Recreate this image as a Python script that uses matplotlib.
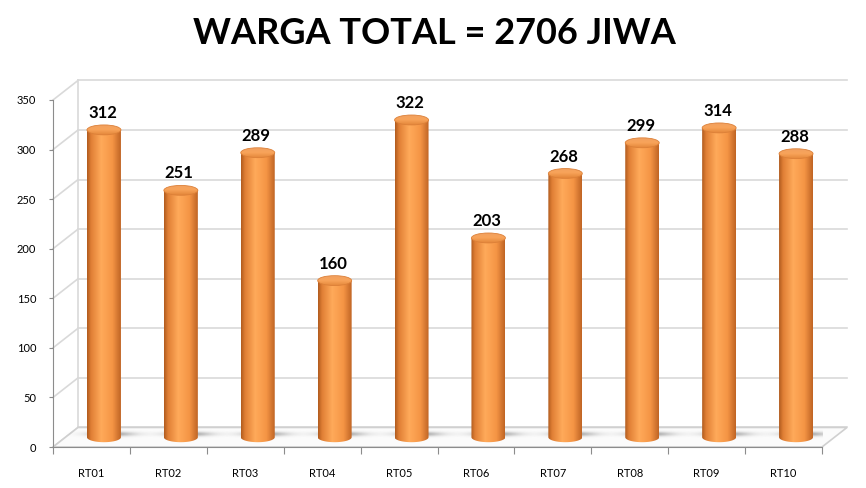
import numpy as np
import matplotlib.pyplot as plt
from matplotlib.colors import LinearSegmentedColormap
from matplotlib.patches import PathPatch, Ellipse, Polygon
from matplotlib.path import Path

# data
kategori = ['RT01', 'RT02', 'RT03', 'RT04', 'RT05', 'RT06', 'RT07', 'RT08', 'RT09', 'RT10']
warga = [312, 251, 289, 160, 322, 203, 268, 299, 314, 288]
judul = 'WARGA TOTAL = 2706 JIWA'
y_ticks = [0, 50, 100, 150, 200, 250, 300, 350]

plt.rcParams['font.family'] = ['Lato', 'DejaVu Sans']

fig = plt.figure(figsize=(8.66, 4.88), dpi=100)
ax = fig.add_axes([53 / 866, 41 / 488, 769 / 866, 347 / 488])
n = len(kategori)

# fake 3d depth (in data units)
dx = 0.325
dy = 19.7
grid_col = '#d9d9d9'

# back wall + side wall grid
for v in y_ticks:
    ax.plot([dx, n + dx], [v + dy, v + dy], color=grid_col, lw=1.2, clip_on=False, zorder=1)
    ax.plot([0, dx], [v, v + dy], color=grid_col, lw=1.2, clip_on=False, zorder=1)
ax.plot([dx, dx], [dy, y_ticks[-1] + dy], color=grid_col, lw=1.2, clip_on=False, zorder=1)

# floor
floor = Polygon([[0, 0], [n, 0], [n + dx, dy], [dx, dy]], closed=True,
                facecolor='#fbfbfb', edgecolor='#d0d0d0', lw=1.2, clip_on=False, zorder=1)
ax.add_patch(floor)

body_cmap = LinearSegmentedColormap.from_list('body', [
    (0.0, '#b05a1e'), (0.12, '#e07f35'), (0.42, '#ffaa5a'),
    (0.75, '#f59545'), (1.0, '#bf6424')])
top_cmap = LinearSegmentedColormap.from_list('top', [
    (0.0, '#e38538'), (0.55, '#f8a45a'), (1.0, '#f2a060')])

w = 0.221      # half width of cylinder
eh = 10.0      # ellipse height
grad = np.linspace(0, 1, 256).reshape(1, -1)

# shadow image
sx = np.linspace(-1, 1, 200)
sy = np.linspace(-1, 1, 40)
SX, SY = np.meshgrid(sx, sy)
shadow = np.zeros((40, 200, 4))
shadow[..., :3] = 0.35
shadow[..., 3] = 0.55 * np.exp(-(SX / 0.45) ** 2 - (SY / 0.45) ** 2)

t = np.linspace(np.pi, 2 * np.pi, 60)

for i, v in enumerate(warga):
    cx = i + 0.5 + dx / 2
    base = dy / 2
    top = v + dy / 2 - 2

    # shadow on floor
    ax.imshow(shadow, extent=[cx - 0.55, cx + 0.75, base - 2, base + 8],
              aspect='auto', zorder=2, interpolation='bilinear')

    # body: bottom half ellipse + rectangle
    bx = cx + w * np.cos(t)
    by = base + eh / 2 * np.sin(t)
    verts = np.column_stack([np.r_[bx, cx + w, cx - w, bx[0]],
                             np.r_[by, top, top, by[0]]])
    body_path = Path(verts, closed=True)
    patch = PathPatch(body_path, facecolor='none', edgecolor='none', transform=ax.transData)
    ax.add_patch(patch)
    im = ax.imshow(grad, cmap=body_cmap, extent=[cx - w, cx + w, base - eh, top],
                   aspect='auto', zorder=3, interpolation='bilinear')
    im.set_clip_path(patch)

    # top cap
    cap = Ellipse((cx, top), 2 * w, eh, facecolor='none', edgecolor='none', transform=ax.transData)
    ax.add_patch(cap)
    im2 = ax.imshow(grad.T[::-1], cmap=top_cmap, extent=[cx - w, cx + w, top - eh / 2, top + eh / 2],
                    aspect='auto', zorder=4, interpolation='bilinear')
    im2.set_clip_path(cap)
    ax.add_patch(Ellipse((cx, top), 2 * w, eh, facecolor='none', edgecolor='#dc8038',
                         lw=0.6, zorder=5))

    ax.text(cx - 0.02, top + eh / 2 + 4, str(v), ha='center', va='bottom',
            fontsize=12, fontweight='bold', color='black', zorder=6)

ax.set_xlim(0, n)
ax.set_ylim(0, y_ticks[-1])

for s in ['top', 'right']:
    ax.spines[s].set_visible(False)
ax.spines['left'].set_color('#8c8c8c')
ax.spines['bottom'].set_color('#8c8c8c')

ax.set_yticks(y_ticks)
ax.set_yticklabels([str(v) for v in y_ticks], fontsize=8)
ax.tick_params(axis='y', length=3, color='#8c8c8c', pad=9)
ax.set_xticks(range(n + 1))
ax.set_xticklabels([])
ax.set_xticks([i + 0.5 for i in range(n)], minor=True)
ax.set_xticklabels(kategori, minor=True, fontsize=8)
ax.tick_params(axis='x', which='major', length=5, color='#8c8c8c', direction='out')
ax.tick_params(axis='x', which='minor', length=0, pad=15)

fig.text(434 / 866, 1 - 33 / 488, judul, ha='center', va='center',
         fontsize=26, fontweight='bold', color='black')

fig.savefig('out.png', dpi=100)
